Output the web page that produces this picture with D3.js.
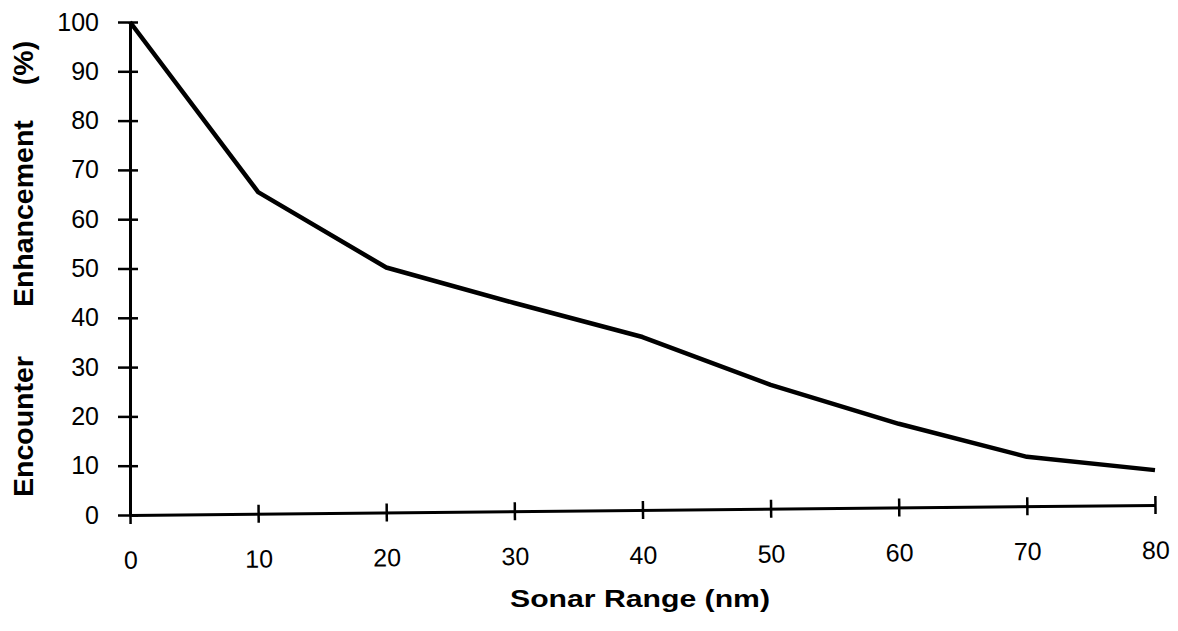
<!DOCTYPE html>
<html>
<head>
<meta charset="utf-8">
<script src="https://cdn.jsdelivr.net/npm/d3@7"></script>
<style>
  body { margin: 0; background: #fff; }
  svg { display: block; font-family: "Liberation Sans", Arial, Helvetica, sans-serif; }
</style>
</head>
<body>
<div id="chart"></div>
<script>
// sonar range (nm) vs encounter enhancement (%)
let ranges = [0, 10, 20, 30, 40, 50, 60, 70, 80];
let enhancement = [100, 65.5, 50.2, 43.0, 36.1, 26.4, 18.5, 11.8, 9.1];

let xTicks = [0, 10, 20, 30, 40, 50, 60, 70, 80];
let yTicks = [0, 10, 20, 30, 40, 50, 60, 70, 80, 90, 100];

const xTitle = 'Sonar Range (nm)';
let yTitleWords = ['Encounter', 'Enhancement', '(%)'];

const width = 1178, height = 631;

let svg = d3.select('#chart').append('svg')
  .attr('width', width).attr('height', height);

let x = d3.scaleLinear().domain([0, 80]).range([130, 1155]);
let y = d3.scaleLinear().domain([0, 100]).range([515, 22]);

// y axis, ticks cross the line
let yAxis = svg.append('g')
  .attr('transform', 'translate(' + x(0) + ',0)')
  .call(d3.axisLeft(y).tickValues(yTicks).tickSize(12).tickSizeOuter(0));
yAxis.select('.domain').attr('stroke', '#000').attr('stroke-width', 3);
yAxis.selectAll('.tick line').attr('x1', 8).attr('x2', -12)
  .attr('stroke', '#000').attr('stroke-width', 2.5);
yAxis.selectAll('.tick text').attr('x', -31)
  .attr('font-size', 25).attr('fill', '#000')
  .attr('font-family', '"Liberation Sans", Arial, sans-serif');

// x axis, the original scan is slightly tilted
let tilt = Math.atan2(-10, x(80) - x(0)) * 180 / Math.PI;
let xAxis = svg.append('g')
  .attr('transform', 'rotate(' + tilt + ',' + x(0) + ',' + y(0) + ') translate(0,' + y(0) + ')')
  .call(d3.axisBottom(x).tickValues(xTicks).tickSize(9).tickSizeOuter(0));
xAxis.select('.domain').attr('stroke', '#000').attr('stroke-width', 3);
xAxis.selectAll('.tick line').attr('y1', -9).attr('y2', 9)
  .attr('stroke', '#000').attr('stroke-width', 2.5);
xAxis.selectAll('.tick text').attr('y', 36)
  .attr('font-size', 25).attr('fill', '#000')
  .attr('font-family', '"Liberation Sans", Arial, sans-serif');

// data line
let line = d3.line()
  .x((d, i) => x(ranges[i]))
  .y(d => y(d));

svg.append('path')
  .datum(enhancement)
  .attr('d', line)
  .attr('fill', 'none')
  .attr('stroke', '#000')
  .attr('stroke-width', 4.5)
  .attr('stroke-linejoin', 'round');

// titles
svg.append('text')
  .attr('x', 640).attr('y', 607)
  .attr('text-anchor', 'middle')
  .attr('font-size', 23).attr('font-weight', 'bold')
  .attr('textLength', 260).attr('lengthAdjust', 'spacingAndGlyphs')
  .text(xTitle);

let yTitle = svg.append('text')
  .attr('transform', 'translate(33,497) rotate(-90)')
  .attr('text-anchor', 'start')
  .attr('font-size', 28.5).attr('font-weight', 'bold');
let gaps = [0, 49, 35];
yTitle.selectAll('tspan')
  .data(yTitleWords)
  .enter().append('tspan')
  .attr('dx', (d, i) => gaps[i])
  .text(d => d);
</script>
</body>
</html>
